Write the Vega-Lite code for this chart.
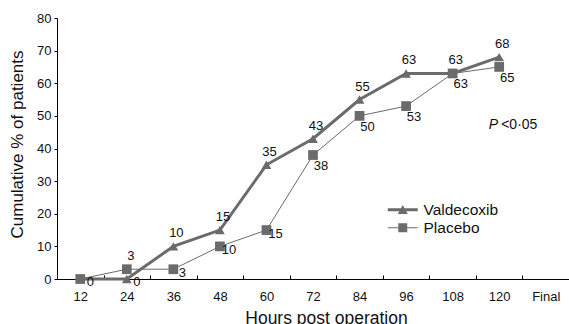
{
  "$schema": "https://vega.github.io/schema/vega-lite/v6.json",
  "width": 512,
  "height": 261,
  "autosize": "none",
  "padding": {"left": 57, "top": 18, "right": 0, "bottom": 45},
  "background": "white",
  "config": {
    "view": {"stroke": null},
    "font": "Liberation Sans",
    "axis": {"domainColor": "#000", "tickColor": "#000", "labelColor": "#111", "titleColor": "#111", "labelFont": "Liberation Sans", "titleFont": "Liberation Sans", "labelFontSize": 13, "titleFontSize": 17, "titleFontWeight": "normal", "grid": false}
  },
  "data": {"values": [
    {"time": "12", "h": 12, "series": "Valdecoxib", "value": 0},
    {"time": "24", "h": 24, "series": "Valdecoxib", "value": 0},
    {"time": "36", "h": 36, "series": "Valdecoxib", "value": 10},
    {"time": "48", "h": 48, "series": "Valdecoxib", "value": 15},
    {"time": "60", "h": 60, "series": "Valdecoxib", "value": 35},
    {"time": "72", "h": 72, "series": "Valdecoxib", "value": 43},
    {"time": "84", "h": 84, "series": "Valdecoxib", "value": 55},
    {"time": "96", "h": 96, "series": "Valdecoxib", "value": 63},
    {"time": "108", "h": 108, "series": "Valdecoxib", "value": 63},
    {"time": "120", "h": 120, "series": "Valdecoxib", "value": 68},
    {"time": "12", "h": 12, "series": "Placebo", "value": 0},
    {"time": "24", "h": 24, "series": "Placebo", "value": 3},
    {"time": "36", "h": 36, "series": "Placebo", "value": 3},
    {"time": "48", "h": 48, "series": "Placebo", "value": 10},
    {"time": "60", "h": 60, "series": "Placebo", "value": 15},
    {"time": "72", "h": 72, "series": "Placebo", "value": 38},
    {"time": "84", "h": 84, "series": "Placebo", "value": 50},
    {"time": "96", "h": 96, "series": "Placebo", "value": 53},
    {"time": "108", "h": 108, "series": "Placebo", "value": 63},
    {"time": "120", "h": 120, "series": "Placebo", "value": 65}
  ]},
  "encoding": {
    "x": {"field": "time", "type": "ordinal", "bandPosition": 0.5,
      "scale": {"type": "band", "domain": ["12","24","36","48","60","72","84","96","108","120","Final"], "paddingInner": 0, "paddingOuter": 0},
      "axis": {"title": "Hours post operation", "labelAngle": 0, "tickBand": "extent", "tickSize": -4, "labelPadding": 15, "titlePadding": 6, "titleX": 269, "titleFontSize": 17.5}},
    "y": {"field": "value", "type": "quantitative",
      "scale": {"domain": [0, 80], "nice": false},
      "axis": {"title": "Cumulative % of patients", "values": [0,10,20,30,40,50,60,70,80], "tickSize": 3, "labelPadding": 3, "titlePadding": 10, "titleFontSize": 17, "titleY": 126}}
  },
  "resolve": {"scale": {"shape": "independent"}, "legend": {"shape": "independent"}},
  "layer": [
    {
      "transform": [{"filter": "datum.series === 'Placebo'"}],
      "mark": {"type": "line", "color": "#6b6b6b", "strokeWidth": 1},
      "encoding": {"order": {"field": "h", "type": "quantitative"}}
    },
    {
      "transform": [{"filter": "datum.series === 'Valdecoxib'"}],
      "mark": {"type": "line", "color": "#6b6b6b", "strokeWidth": 3},
      "encoding": {"order": {"field": "h", "type": "quantitative"}}
    },
    {
      "mark": {"type": "point", "filled": true, "opacity": 1, "color": "#6b6b6b", "size": 95},
      "encoding": {
        "shape": {"field": "series", "type": "nominal", "scale": {"domain": ["Valdecoxib", "Placebo"], "range": ["triangle-up", "square"]}, "legend": null}
      }
    },
    {
      "mark": {"type": "point", "filled": true, "opacity": 0, "color": "#6b6b6b", "size": 10},
      "encoding": {
        "shape": {"field": "series", "type": "nominal",
          "scale": {"domain": ["Valdecoxib", "Placebo"], "range": ["M-2.14,-0.21H2.14V0.21H-2.14Z M-0.72,0.6L0,-0.68L0.72,0.6Z", "M-2.14,-0.07H2.14V0.07H-2.14Z M-0.64,-0.64H0.64V0.64H-0.64Z"]},
          "legend": {"title": null, "orient": "none", "legendX": 338, "legendY": 184, "padding": 0, "labelFontSize": 15.5, "labelFont": "Liberation Sans", "labelColor": "#111", "labelOffset": 13, "rowPadding": 1,
            "symbolSize": 196, "symbolOpacity": 1, "symbolFillColor": "#6b6b6b", "symbolStrokeWidth": 0, "symbolStrokeColor": "#6b6b6b"}}
      }
    },
    {
      "transform": [{"filter": "datum.series === 'Valdecoxib' && datum.h > 24"}],
      "mark": {"type": "text", "fontSize": 13, "color": "#111", "dx": 3, "dy": -13},
      "encoding": {"text": {"field": "value"}}
    },
    {
      "transform": [{"filter": "datum.series === 'Valdecoxib' && datum.h <= 24"}],
      "mark": {"type": "text", "fontSize": 13, "color": "#111", "dx": 10, "dy": 3},
      "encoding": {"text": {"field": "value"}}
    },
    {
      "transform": [{"filter": "datum.series === 'Placebo' && datum.h == 24"}],
      "mark": {"type": "text", "fontSize": 13, "color": "#111", "dx": 4, "dy": -13},
      "encoding": {"text": {"field": "value"}}
    },
    {
      "transform": [{"filter": "datum.series === 'Placebo' && datum.h >= 36 && datum.h <= 60"}],
      "mark": {"type": "text", "fontSize": 13, "color": "#111", "dx": 9, "dy": 4},
      "encoding": {"text": {"field": "value"}}
    },
    {
      "transform": [{"filter": "datum.series === 'Placebo' && datum.h >= 72"}],
      "mark": {"type": "text", "fontSize": 13, "color": "#111", "dx": 8, "dy": 11},
      "encoding": {"text": {"field": "value"}}
    },
    {
      "data": {"values": [{"time": "120", "value": 47.2, "p": "P", "rest": "<0·05"}]},
      "layer": [
        {"mark": {"type": "text", "fontSize": 14, "fontStyle": "italic", "color": "#111", "align": "right", "dx": -1}, "encoding": {"text": {"field": "p"}}},
        {"mark": {"type": "text", "fontSize": 14, "color": "#111", "align": "left", "dx": 2}, "encoding": {"text": {"field": "rest"}}}
      ]
    }
  ]
}
